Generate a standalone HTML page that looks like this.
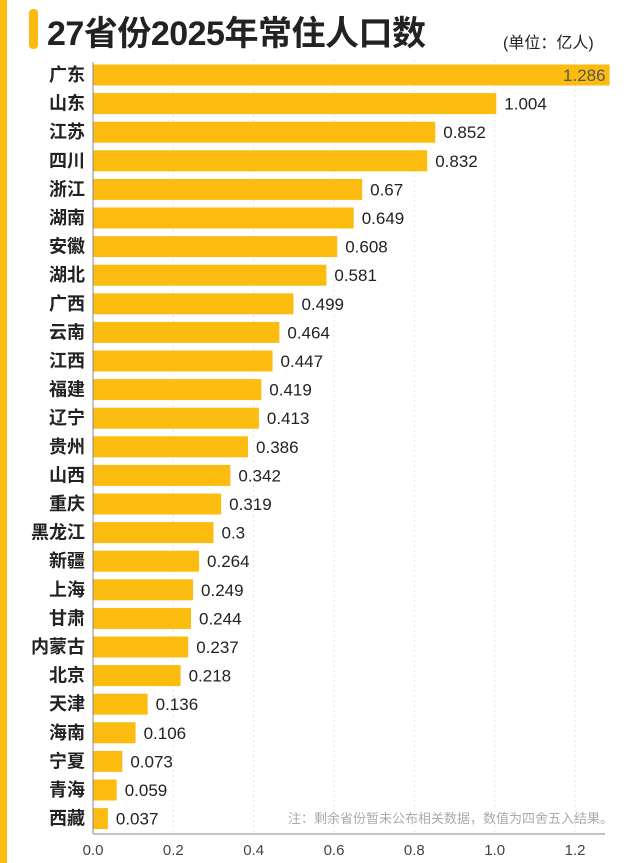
<!DOCTYPE html>
<html><head><meta charset="utf-8"><style>
body{margin:0;background:#fff;font-family:"Liberation Sans","Noto Sans CJK SC",sans-serif}
#wrap{position:relative;width:640px;height:863px;overflow:hidden;background:#fff}
</style></head><body>
<div id="wrap">
<div style="position:absolute;left:0;top:0;width:7px;height:863px;background:#fbbc0f"></div>
<div style="position:absolute;left:29px;top:9px;width:9px;height:40px;border-radius:4px;background:#fbbc0f"></div>
<div style="position:absolute;left:47px;top:6px;font-size:34px;font-weight:bold;color:#222;font-family:'Liberation Sans','Noto Sans CJK SC',sans-serif;letter-spacing:-0.5px">27省份2025年常住人口数</div>
<div style="position:absolute;left:503px;top:29px;font-size:16px;color:#222">(单位：亿人)</div>
<svg id="chart" width="640" height="863" style="position:absolute;left:0;top:0"></svg>
</div>
<script>
const categories=["广东","山东","江苏","四川","浙江","湖南","安徽","湖北","广西","云南","江西","福建","辽宁","贵州","山西","重庆","黑龙江","新疆","上海","甘肃","内蒙古","北京","天津","海南","宁夏","青海","西藏"];
const values=[1.286,1.004,0.852,0.832,0.67,0.649,0.608,0.581,0.499,0.464,0.447,0.419,0.413,0.386,0.342,0.319,0.3,0.264,0.249,0.244,0.237,0.218,0.136,0.106,0.073,0.059,0.037];
const labels=["1.286","1.004","0.852","0.832","0.67","0.649","0.608","0.581","0.499","0.464","0.447","0.419","0.413","0.386","0.342","0.319","0.3","0.264","0.249","0.244","0.237","0.218","0.136","0.106","0.073","0.059","0.037"];
const ticks=[0,0.2,0.4,0.6,0.8,1.0,1.2];
const tickLabels=["0.0","0.2","0.4","0.6","0.8","1.0","1.2"];
const NS="http://www.w3.org/2000/svg";
const svg=document.getElementById('chart');
const x0=93,pxPer=401.7,top0=75,pitch=28.6,bh=21,axisY=834;
const xs=v=>x0+v*pxPer;
const ys=i=>top0+i*pitch;
function mk(t,a){const e=document.createElementNS(NS,t);for(const k in a)e.setAttribute(k,a[k]);svg.appendChild(e);return e;}
ticks.forEach((t,i)=>{
 if(i>0){const g=mk('line',{x1:xs(t),x2:xs(t),y1:60,y2:axisY,stroke:'#e4e4e4','stroke-dasharray':'2,3'});
 
 }
 const tl=mk('text',{x:xs(t),y:axisY+21,'text-anchor':'middle','font-size':15,fill:'#444'});
 tl.textContent=tickLabels[i];
 
 
});
categories.forEach((c,i)=>{
 const y=ys(i);
 const r=mk('rect',{x:x0,y:y-bh/2,width:xs(values[i])-x0,height:bh,fill:'#fbbc0f'});
 
 
 const l=mk('text',{x:x0-8,y:y+6,'text-anchor':'end','font-size':18,fill:'#222','font-weight':'bold'});
 l.textContent=c;
 
 
 const inside=i===0;
 const v=mk('text',{x:inside?xs(values[i])-4:xs(values[i])+8,y:y+6,'text-anchor':inside?'end':'start','font-size':17,fill:inside?'#555':'#222'});
 v.textContent=labels[i];
 
 
});
const ax=mk('line',{x1:x0,x2:605,y1:axisY,y2:axisY,stroke:'#888','stroke-width':1});


const ay=mk('line',{x1:x0,x2:x0,y1:62,y2:axisY,stroke:'#888','stroke-width':1});


const n=mk('text',{x:613,y:823,'text-anchor':'end','font-size':13,fill:'#aaa'});
n.textContent='注：剩余省份暂未公布相关数据，数值为四舍五入结果。';


</script>
</body></html>
